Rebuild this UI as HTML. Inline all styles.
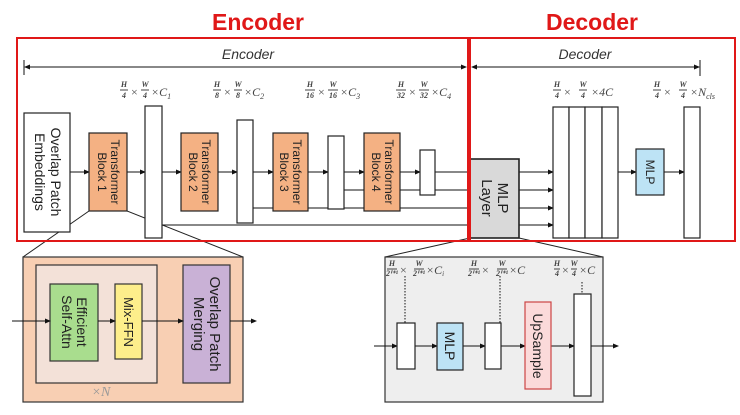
<!DOCTYPE html>
<html><head><meta charset="utf-8"><style>
html,body{margin:0;padding:0;background:#fff;width:740px;height:415px;overflow:hidden}
svg{display:block;font-family:"Liberation Sans",sans-serif}
.f{font-family:"Liberation Serif",serif;font-size:8px;font-style:italic;font-weight:bold;fill:#444;text-anchor:middle}
.x{font-family:"Liberation Serif",serif;font-size:12px;fill:#444}
.c{font-family:"Liberation Serif",serif;font-size:12px;font-style:italic;fill:#444}
.s{font-size:8px}
.v{font-size:12px;fill:#222}
</style></head><body>
<svg width="740" height="415" viewBox="0 0 740 415" xmlns="http://www.w3.org/2000/svg">
<defs><marker id="a" markerWidth="6" markerHeight="6" refX="5" refY="3" orient="auto" markerUnits="userSpaceOnUse"><path d="M0,0.5 L6,3 L0,5.5z" fill="#111"/></marker>
<marker id="b" markerWidth="6" markerHeight="6" refX="1" refY="3" orient="auto" markerUnits="userSpaceOnUse"><path d="M6,0.5 L0,3 L6,5.5z" fill="#111"/></marker></defs>

<text x="258" y="30" text-anchor="middle" font-size="23" font-weight="bold" fill="#e01818">Encoder</text>
<text x="592" y="30" text-anchor="middle" font-size="23" font-weight="bold" fill="#e01818">Decoder</text>

<g stroke="#222" stroke-width="1" fill="none">
<line x1="89" y1="211" x2="23" y2="257"/><line x1="127" y1="211" x2="243" y2="257"/>
<line x1="470" y1="238" x2="385" y2="257"/><line x1="519" y1="238" x2="603" y2="257"/>
</g>

<text x="248" y="59" text-anchor="middle" font-size="14" font-style="italic" fill="#333">Encoder</text>
<line x1="25" y1="67" x2="466" y2="67" stroke="#111" marker-start="url(#b)" marker-end="url(#a)"/>
<line x1="24" y1="60" x2="24" y2="75" stroke="#111"/>
<text x="585" y="59" text-anchor="middle" font-size="14" font-style="italic" fill="#333">Decoder</text>
<line x1="472" y1="67" x2="699" y2="67" stroke="#111" marker-start="url(#b)" marker-end="url(#a)"/>
<line x1="700" y1="60" x2="700" y2="76" stroke="#111"/>

<g stroke="#111" stroke-width="1" fill="none">
<line x1="70" y1="172" x2="89" y2="172" marker-end="url(#a)"/>
<line x1="127" y1="172" x2="145" y2="172" marker-end="url(#a)"/>
<line x1="162" y1="172" x2="181" y2="172" marker-end="url(#a)"/>
<line x1="218" y1="172" x2="237" y2="172" marker-end="url(#a)"/>
<line x1="253" y1="172" x2="273" y2="172" marker-end="url(#a)"/>
<line x1="308" y1="172" x2="328" y2="172" marker-end="url(#a)"/>
<line x1="344" y1="172" x2="364" y2="172" marker-end="url(#a)"/>
<line x1="400" y1="172" x2="420" y2="172" marker-end="url(#a)"/>
<line x1="435" y1="172" x2="470" y2="172"/>
<line x1="344" y1="190" x2="470" y2="190"/>
<line x1="253" y1="208" x2="470" y2="208"/>
<line x1="162" y1="225" x2="470" y2="225"/>
<line x1="519" y1="172" x2="553" y2="172" marker-end="url(#a)"/>
<line x1="519" y1="190" x2="553" y2="190" marker-end="url(#a)"/>
<line x1="519" y1="208" x2="553" y2="208" marker-end="url(#a)"/>
<line x1="519" y1="225" x2="553" y2="225" marker-end="url(#a)"/>
<line x1="618" y1="172" x2="636" y2="172" marker-end="url(#a)"/>
<line x1="664" y1="172" x2="684" y2="172" marker-end="url(#a)"/>
</g>
<g stroke="#222" stroke-width="1.2">
<rect x="24" y="113" width="46" height="119" fill="#fff"/>
<rect x="89" y="133" width="38" height="78" fill="#f4b183"/>
<rect x="181" y="133" width="37" height="78" fill="#f4b183"/>
<rect x="273" y="133" width="35" height="78" fill="#f4b183"/>
<rect x="364" y="133" width="36" height="78" fill="#f4b183"/>
<rect x="145" y="106" width="17" height="132" fill="#fff"/>
<rect x="237" y="120" width="16" height="103" fill="#fff"/>
<rect x="328" y="136" width="16" height="73" fill="#fff"/>
<rect x="420" y="150" width="15" height="45" fill="#fff"/>
<rect x="470" y="159" width="49" height="79" fill="#d9d9d9" stroke-width="1.6"/>
<rect x="553" y="107" width="16" height="131" fill="#fff"/>
<rect x="569" y="107" width="16" height="131" fill="#fff"/>
<rect x="585" y="107" width="17" height="131" fill="#fff"/>
<rect x="602" y="107" width="16" height="131" fill="#fff"/>
<rect x="636" y="149" width="28" height="46" fill="#bde3f5"/>
<rect x="684" y="107" width="16" height="131" fill="#fff"/>
</g>
<g font-size="13" fill="#222" text-anchor="middle">
<text transform="translate(47,172) rotate(90)" font-size="14"><tspan x="0" y="-4">Overlap Patch</tspan><tspan x="0" y="12">Embeddings</tspan></text>
<text transform="translate(108,172) rotate(90)" class="v"><tspan x="0" y="-3">Transformer</tspan><tspan x="0" y="10">Block 1</tspan></text>
<text transform="translate(199,172) rotate(90)" class="v"><tspan x="0" y="-3">Transformer</tspan><tspan x="0" y="10">Block 2</tspan></text>
<text transform="translate(290,172) rotate(90)" class="v"><tspan x="0" y="-3">Transformer</tspan><tspan x="0" y="10">Block 3</tspan></text>
<text transform="translate(382,172) rotate(90)" class="v"><tspan x="0" y="-3">Transformer</tspan><tspan x="0" y="10">Block 4</tspan></text>
<text transform="translate(494,198) rotate(90)" font-size="15"><tspan x="0" y="-4">MLP</tspan><tspan x="0" y="12">Layer</tspan></text>
<text transform="translate(650,172) rotate(90)" font-size="12" y="4">MLP</text>
</g>

<g>
<text class="f" x="124" y="87">H</text><line x1="120" y1="90" x2="128" y2="90" stroke="#444"/><text class="f" x="124" y="98">4</text>
<text class="x" x="131" y="96">×</text>
<text class="f" x="145" y="87">W</text><line x1="141" y1="90" x2="149" y2="90" stroke="#444"/><text class="f" x="145" y="98">4</text>
<text class="c" x="151" y="96">×C<tspan class="s" dy="3">1</tspan></text>
<text class="f" x="217" y="87">H</text><line x1="213" y1="90" x2="221" y2="90" stroke="#444"/><text class="f" x="217" y="98">8</text>
<text class="x" x="224" y="96">×</text>
<text class="f" x="238" y="87">W</text><line x1="234" y1="90" x2="242" y2="90" stroke="#444"/><text class="f" x="238" y="98">8</text>
<text class="c" x="244" y="96">×C<tspan class="s" dy="3">2</tspan></text>
<text class="f" x="310" y="87">H</text><line x1="305" y1="90" x2="315" y2="90" stroke="#444"/><text class="f" x="310" y="98">16</text>
<text class="x" x="318" y="96">×</text>
<text class="f" x="333" y="87">W</text><line x1="328" y1="90" x2="338" y2="90" stroke="#444"/><text class="f" x="333" y="98">16</text>
<text class="c" x="340" y="96">×C<tspan class="s" dy="3">3</tspan></text>
<text class="f" x="401" y="87">H</text><line x1="396" y1="90" x2="406" y2="90" stroke="#444"/><text class="f" x="401" y="98">32</text>
<text class="x" x="409" y="96">×</text>
<text class="f" x="424" y="87">W</text><line x1="419" y1="90" x2="429" y2="90" stroke="#444"/><text class="f" x="424" y="98">32</text>
<text class="c" x="431" y="96">×C<tspan class="s" dy="3">4</tspan></text>
<text class="f" x="557" y="87">H</text><line x1="553" y1="90" x2="561" y2="90" stroke="#444"/><text class="f" x="557" y="98">4</text>
<text class="x" x="564" y="96">×</text>
<text class="f" x="583" y="87">W</text><line x1="579" y1="90" x2="587" y2="90" stroke="#444"/><text class="f" x="583" y="98">4</text>
<text class="c" x="591" y="96">×4C</text>
<text class="f" x="657" y="87">H</text><line x1="653" y1="90" x2="661" y2="90" stroke="#444"/><text class="f" x="657" y="98">4</text>
<text class="x" x="664" y="96">×</text>
<text class="f" x="683" y="87">W</text><line x1="679" y1="90" x2="687" y2="90" stroke="#444"/><text class="f" x="683" y="98">4</text>
<text class="c" x="690" y="96">×N<tspan class="s" dy="3">cls</tspan></text>
</g>

<rect x="17" y="38" width="451" height="203" fill="none" stroke="#e01818" stroke-width="2"/>
<rect x="470" y="38" width="265" height="203" fill="none" stroke="#e01818" stroke-width="2"/>

<rect x="23" y="257" width="220" height="145" fill="#f8cfb3" stroke="#333" stroke-width="1.2"/>
<rect x="36" y="265" width="121" height="118" fill="#f3e1d8" stroke="#333" stroke-width="1.2"/>
<rect x="50" y="284" width="48" height="77" fill="#a9dd8e" stroke="#333" stroke-width="1.2"/>
<rect x="115" y="284" width="27" height="75" fill="#fdee8b" stroke="#333" stroke-width="1.2"/>
<rect x="183" y="265" width="47" height="118" fill="#c9b1d6" stroke="#333" stroke-width="1.2"/>
<g stroke="#111" fill="none">
<line x1="12" y1="321" x2="50" y2="321" marker-end="url(#a)"/>
<line x1="98" y1="321" x2="115" y2="321" marker-end="url(#a)"/>
<line x1="142" y1="321" x2="183" y2="321" marker-end="url(#a)"/>
<line x1="230" y1="321" x2="256" y2="321" marker-end="url(#a)"/>
</g>
<g font-size="13" fill="#222" text-anchor="middle">
<text transform="translate(74,322) rotate(90)" font-size="14"><tspan x="0" y="-3">Efficient</tspan><tspan x="0" y="12">Self-Attn</tspan></text>
<text transform="translate(128,322) rotate(90)" y="4">Mix-FFN</text>
<text transform="translate(206,324) rotate(90)" font-size="15"><tspan x="0" y="-4">Overlap Patch</tspan><tspan x="0" y="12">Merging</tspan></text>
</g>
<text x="101" y="396" text-anchor="middle" font-family="Liberation Serif,serif" font-style="italic" font-size="14" fill="#999">×N</text>

<rect x="385" y="257" width="218" height="145" fill="#eeeeee" stroke="#333" stroke-width="1.2"/>
<g stroke="#111" fill="none">
<line x1="374" y1="346" x2="397" y2="346" marker-end="url(#a)"/>
<line x1="415" y1="346" x2="437" y2="346" marker-end="url(#a)"/>
<line x1="463" y1="346" x2="485" y2="346" marker-end="url(#a)"/>
<line x1="501" y1="346" x2="525" y2="346" marker-end="url(#a)"/>
<line x1="551" y1="346" x2="574" y2="346" marker-end="url(#a)"/>
<line x1="591" y1="346" x2="618" y2="346" marker-end="url(#a)"/>
<line x1="405" y1="276" x2="405" y2="323" stroke-dasharray="1.5,1.5"/>
<line x1="500" y1="276" x2="500" y2="323" stroke-dasharray="1.5,1.5"/>
<line x1="582" y1="282" x2="582" y2="294" stroke-dasharray="1.5,1.5"/>
</g>
<g stroke="#222" stroke-width="1.2">
<rect x="397" y="323" width="18" height="46" fill="#fff"/>
<rect x="437" y="323" width="26" height="47" fill="#bde3f5"/>
<rect x="485" y="323" width="16" height="46" fill="#fff"/>
<rect x="525" y="302" width="26" height="87" fill="#fbdada" stroke="#c44"/>
<rect x="574" y="294" width="17" height="102" fill="#fff"/>
</g>
<g font-size="14" fill="#222" text-anchor="middle">
<text transform="translate(450,346) rotate(90)" y="5">MLP</text>
<text transform="translate(538,346) rotate(90)" y="5">UpSample</text>
</g>
<g>
<text class="f" x="392" y="266" font-size="6">H</text><line x1="387" y1="269" x2="397" y2="269" stroke="#444"/><text class="f" x="392" y="276" font-size="6">2ⁱ⁺¹</text>
<text class="x" x="400" y="274" font-size="10">×</text>
<text class="f" x="419" y="266" font-size="6">W</text><line x1="414" y1="269" x2="424" y2="269" stroke="#444"/><text class="f" x="419" y="276" font-size="6">2ⁱ⁺¹</text>
<text class="c" x="426" y="274" font-size="10">×C<tspan font-size="7" dy="2">i</tspan></text>
<text class="f" x="474" y="266" font-size="6">H</text><line x1="469" y1="269" x2="479" y2="269" stroke="#444"/><text class="f" x="474" y="276" font-size="6">2ⁱ⁺¹</text>
<text class="x" x="482" y="274" font-size="10">×</text>
<text class="f" x="502" y="266" font-size="6">W</text><line x1="497" y1="269" x2="507" y2="269" stroke="#444"/><text class="f" x="502" y="276" font-size="6">2ⁱ⁺¹</text>
<text class="c" x="509" y="274" font-size="10">×C</text>
<text class="f" x="557" y="266" font-size="6">H</text><line x1="554" y1="269" x2="560" y2="269" stroke="#444"/><text class="f" x="557" y="276" font-size="6">4</text>
<text class="x" x="562" y="274" font-size="10">×</text>
<text class="f" x="574" y="266" font-size="6">W</text><line x1="571" y1="269" x2="577" y2="269" stroke="#444"/><text class="f" x="574" y="276" font-size="6">4</text>
<text class="c" x="579" y="274" font-size="10">×C</text>
</g>
</svg>
</body></html>
